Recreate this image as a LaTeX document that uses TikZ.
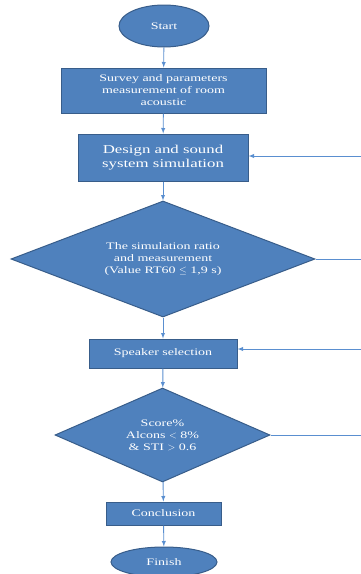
\documentclass[tikz,border=0pt]{standalone}
\usepackage{fontspec}
\setmainfont{Liberation Serif}[FakeStretch=1.4]
\usetikzlibrary{arrows,shapes.geometric}
\definecolor{boxblue}{HTML}{4F81BD}
\definecolor{edgeblue}{HTML}{385D8A}
\definecolor{linkblue}{HTML}{5A8FD0}
\tikzset{
	block/.style={draw=edgeblue, line width=1pt, fill=boxblue, text=white, align=center, inner sep=1pt, font=\fontsize{10}{12}\selectfont},
	term/.style={block, ellipse},
	choice/.style={block, diamond, aspect=2.5},
	link/.style={draw=linkblue, line width=0.9pt, -latex}
}

\begin{document}
\begin{tikzpicture}[x=1pt,y=-1pt]
	\useasboundingbox (0,0) rectangle (361,574);
	\node[term, minimum width=90, minimum height=42] (start) at (164,26) {Start};
	\node[block, minimum width=205, minimum height=45] (survey) at (163.5,90.5) {Survey and parameters\\measurement of room\\acoustic};
	\node[block, minimum width=170, minimum height=47, font=\fontsize{12}{14}\selectfont] (design) at (163,157.5) {Design and sound\\system simulation};
	\node[choice, minimum width=304, minimum height=116] (ratio) at (163,259) {The simulation ratio\\and measurement\\(Value RT60 $\leq$ 1,9 s)};
	\node[block, minimum width=148, minimum height=29] (speaker) at (163,353.5) {Speaker selection};
	\node[choice, minimum width=215, minimum height=94] (score) at (162.5,435) {Score\%\\Alcons $<$ 8\%\\\& STI $>$ 0.6};
	\node[block, minimum width=115, minimum height=23] (concl) at (163.5,513.5) {Conclusion};
	\node[term, minimum width=106, minimum height=30] (finish) at (164,562) {Finish};
	% loose ends at the right edge
	\coordinate (backA) at (361,156);
	\coordinate (outA) at (361,259);
	\coordinate (backB) at (361,349);
	\coordinate (outB) at (361,435);
	% main flow
	\draw[link] (start) -- (survey);
	\draw[link] (survey) -- (design);
	\draw[link] (design) -- (ratio);
	\draw[link] (ratio) -- (speaker);
	\draw[link] (speaker) -- (score);
	\draw[link] (score) -- (concl);
	\draw[link] (concl) -- (finish);
	% side lines
	\draw[link] (backA) -- (design.east |- backA);
	\draw[link] (backB) -- (speaker.east |- backB);
	\draw[draw=linkblue, line width=0.9pt] (ratio.east) -- (outA);
	\draw[draw=linkblue, line width=0.9pt] (score.east) -- (outB);
\end{tikzpicture}
\end{document}
